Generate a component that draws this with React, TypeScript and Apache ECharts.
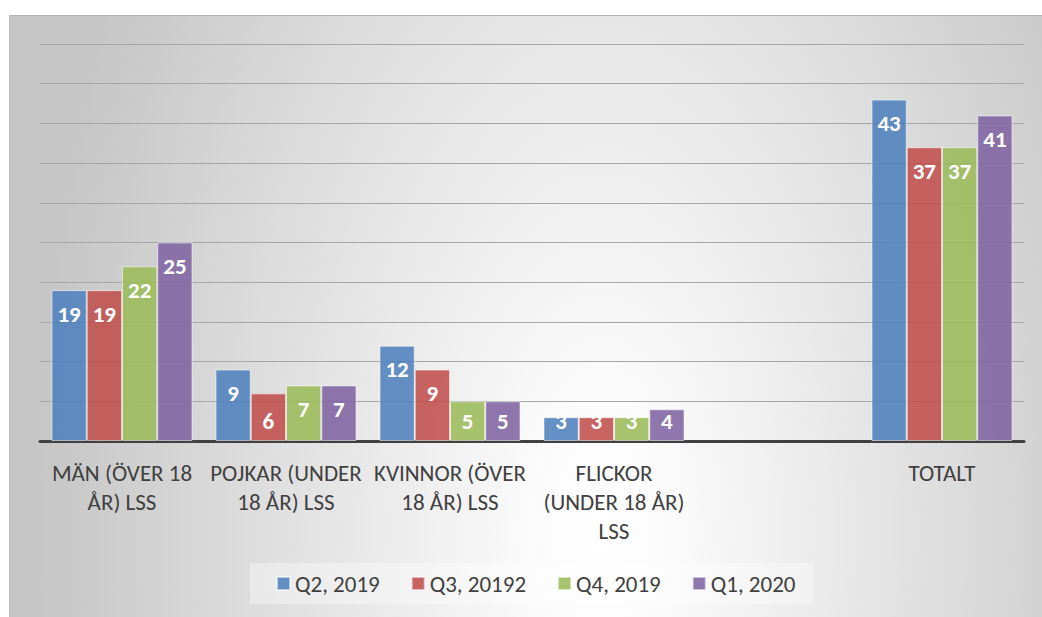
import React, { useEffect, useRef } from "react";
import * as echarts from "echarts";

const categories = [
  "MÄN (ÖVER 18\nÅR) LSS",
  "POJKAR (UNDER\n18 ÅR) LSS",
  "KVINNOR (ÖVER\n18 ÅR) LSS",
  "FLICKOR\n(UNDER 18 ÅR)\nLSS",
  "",
  "TOTALT",
];
const seriesNames = ["Q2, 2019", "Q3, 20192", "Q4, 2019", "Q1, 2020"];
const q2_2019 = [19, 9, 12, 3, null, 43];
const q3_2019 = [19, 6, 9, 3, null, 37];
const q4_2019 = [22, 7, 5, 3, null, 37];
const q1_2020 = [25, 7, 5, 4, null, 41];
const seriesValues = [q2_2019, q3_2019, q4_2019, q1_2020];
const seriesColors = [
  "rgba(79,129,189,0.88)",
  "rgba(192,80,77,0.88)",
  "rgba(155,187,89,0.88)",
  "rgba(128,100,162,0.88)",
];
const yMin = 0;
const yMax = 50;
const yInterval = 5;

const FONT = "Carlito, Lato, 'Open Sans', sans-serif";

export default function App() {
  const ref = useRef<HTMLDivElement>(null);
  useEffect(() => {
    if (!ref.current) return;
    const chart = echarts.init(ref.current, undefined, { renderer: "svg" });
    const series = seriesNames.map((name, i) => ({
      name,
      type: "bar",
      barGap: "0%",
      barCategoryGap: "14%",
      itemStyle: {
        color: seriesColors[i],
        borderColor: "rgba(255,255,255,0.55)",
        borderWidth: 1,
      },
      label: {
        show: true,
        position: "insideTop",
        distance: 12,
        color: "#ffffff",
        fontFamily: FONT,
        fontWeight: "bold",
        fontSize: 23,
      },
      data: seriesValues[i].map((v) =>
        v === null
          ? null
          : v < 6.5
          ? { value: v, label: { position: "insideBottom", distance: 9 } }
          : { value: v }
      ),
    }));
    chart.setOption({
      animation: false,
      backgroundColor: "transparent",
      textStyle: { fontFamily: FONT, color: "#404040" },
      grid: { left: 40, right: 18, top: 44, bottom: 176, containLabel: false },
      legend: {
        left: 250,
        top: 563,
        padding: [9, 18, 9, 26],
        backgroundColor: "rgba(255,255,255,0.35)",
        itemWidth: 13,
        itemHeight: 13,
        itemGap: 31,
        icon: "rect",
        textStyle: { fontFamily: FONT, fontSize: 23, color: "#404040" },
        data: seriesNames,
      },
      xAxis: {
        type: "category",
        data: categories,
        axisLine: { show: true, lineStyle: { color: "#404040", width: 3 } },
        axisTick: { show: false },
        axisLabel: {
          interval: 0,
          margin: 17,
          fontFamily: FONT,
          fontSize: 23,
          lineHeight: 29,
          color: "#404040",
          align: "center",
        },
      },
      yAxis: {
        type: "value",
        min: yMin,
        max: yMax,
        interval: yInterval,
        axisLine: { show: false },
        axisTick: { show: false },
        axisLabel: { show: false },
        splitLine: { show: true, lineStyle: { color: "#a6a6a6", width: 1 } },
      },
      series,
    });
    return () => chart.dispose();
  }, []);

  return (
    <div
      style={{
        position: "fixed",
        left: 0,
        top: 0,
        width: 1042,
        height: 617,
        background: "#ffffff",
        overflow: "hidden",
      }}
    >
      <div
        style={{
          position: "absolute",
          left: 9,
          top: 15,
          width: 1033,
          height: 602,
          boxSizing: "border-box",
          borderTop: "1px solid #b4b4b4",
          borderLeft: "1px solid #bdbdbd",
          background:
            "radial-gradient(560px 1100px at 591px 515px, #ffffff 0%, #fbfbfb 12%, #c6c6c6 100%)",
        }}
      />
      <div
        ref={ref}
        style={{ position: "absolute", left: 0, top: 0, width: 1042, height: 617 }}
      />
    </div>
  );
}
